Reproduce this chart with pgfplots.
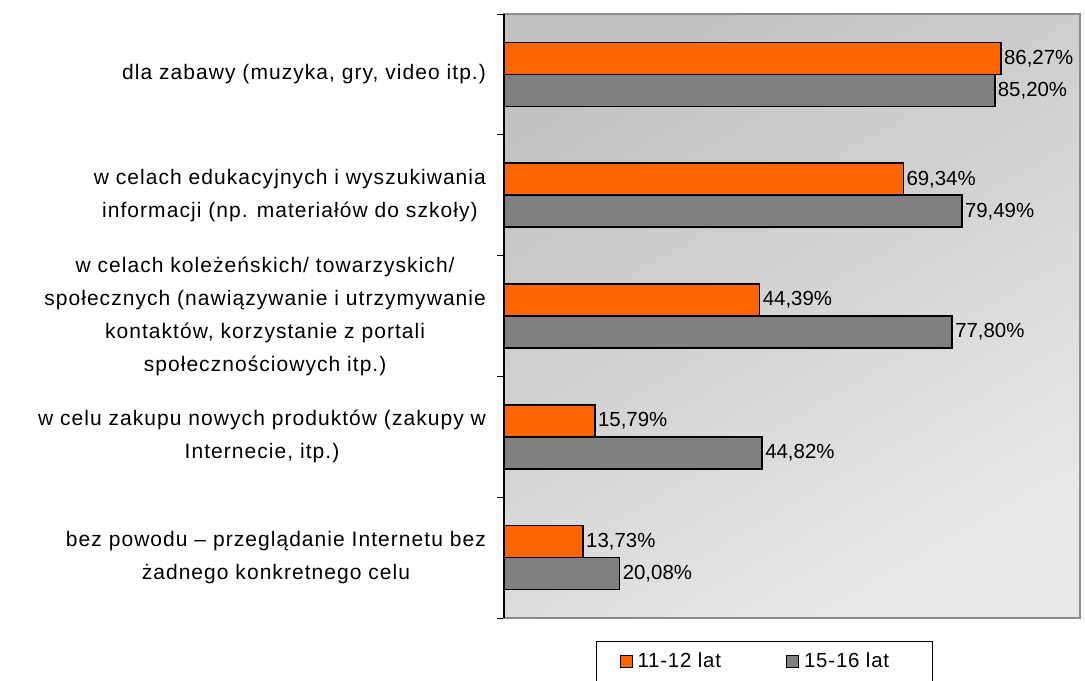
\documentclass[border=0pt]{standalone}
\usepackage{pgfplots}
\pgfplotsset{compat=1.18}
\usepackage{fontspec}
\setmainfont{Liberation Sans}
\newfontfamily\spaced[LetterSpace=5]{Liberation Sans}
\newfontfamily\lspaced[LetterSpace=4]{Liberation Sans}
\definecolor{orng}{HTML}{FF6600}
\definecolor{gbar}{HTML}{808080}
\definecolor{bgA}{HTML}{C2C2C2}
\definecolor{bgB}{HTML}{E8E8E8}
\definecolor{frm}{HTML}{8C8C8C}
\begin{document}
\fontsize{10pt}{16.5pt}\selectfont
\begin{tikzpicture}
\begin{axis}[name=ax, at={(0,0)}, anchor=south west, scale only axis,
  width=288pt, height=302pt,
  xbar, xmin=0, xmax=100, ymin=-0.5, ymax=4.5, xtick=\empty,
  ytick={0,...,4},
  yticklabels={{bez powodu – przeglądanie Internetu bez\\żadnego konkretnego celu},
    {w celu zakupu nowych produktów (zakupy w\\Internecie, itp.)},
    {w celach koleżeńskich/ towarzyskich/\\społecznych (nawiązywanie i utrzymywanie\\kontaktów, korzystanie z portali\\społecznościowych itp.)},
    {w celach edukacyjnych i wyszukiwania\\informacji (np. materiałów do szkoły)},
    {dla zabawy (muzyka, gry, video itp.)}},
  minor ytick={-0.5,0.5,...,4.5}, ytick pos=left, tick align=outside,
  major tick length=0pt, minor tick length=3.5pt,
  tick style={black, line width=0.5pt},
  yticklabel style={align=center, font=\spaced\fontsize{10.5pt}{16.5pt}\selectfont, xshift=-5.5pt},
  axis line style={draw=frm, line width=0.75pt},
  axis background/.style={top color=bgA, bottom color=bgB, shading angle=30},
  bar width=16pt, clip=false,
  point meta=explicit symbolic,
  nodes near coords={\pgfplotspointmeta\%},
  nodes near coords style={font=\fontsize{10.2pt}{12pt}\selectfont, inner xsep=1.2pt, anchor=west, black},
  legend columns=2,
  legend image code/.code={\draw[#1, line width=0.5pt] (0pt,-3pt) rectangle (6pt,3pt);},
  legend style={at={(0.452,-0.038)}, anchor=north, draw=black, line width=0.5pt, fill=white,
    font=\lspaced\fontsize{10.2pt}{12pt}\selectfont, inner xsep=11.5pt, inner ysep=4pt,
    nodes={inner sep=1.5pt},
    /tikz/every odd column/.append style={column sep=1pt},
    /tikz/every even column/.append style={column sep=31pt}},
]
\addplot[fill=orng, draw=black, line width=0.75pt, bar shift=8pt] table[x=x, y=y, meta=l] {
y x l
4 86.27 86,27
3 69.34 69,34
2 44.39 44,39
1 15.79 15,79
0 13.73 13,73
};
\addlegendentry{11-12 lat}
\addplot[fill=gbar, draw=black, line width=0.75pt, bar shift=-8pt] table[x=x, y=y, meta=l] {
y x l
4 85.20 85,20
3 79.49 79,49
2 77.80 77,80
1 44.82 44,82
0 20.08 20,08
};
\addlegendentry{15-16 lat\hspace*{8.5pt}}
\end{axis}
\draw[black, line width=0.75pt] (ax.south west) -- (ax.north west);
\pgfresetboundingbox
\path[use as bounding box] (-252pt,-31pt) rectangle (290.5pt,309pt);
\end{tikzpicture}
\end{document}
